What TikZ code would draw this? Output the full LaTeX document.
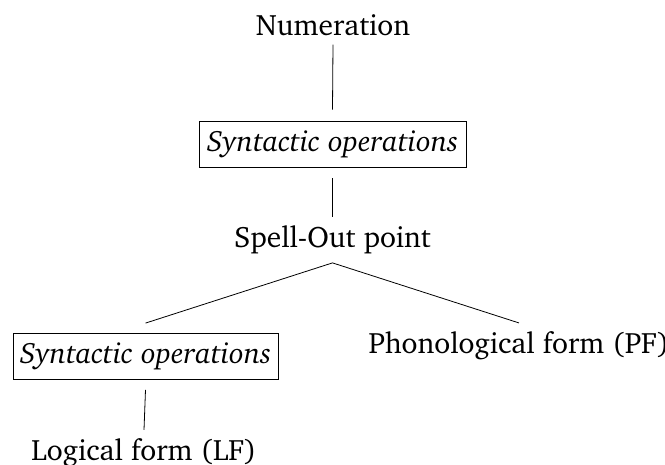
\documentclass[tikz,border=0pt]{standalone}
\usepackage[T1]{fontenc}
\usepackage{charter}
\begin{document}
\begin{tikzpicture}[x=1pt,y=-1pt,
  lbl/.style={inner sep=0pt, font=\fontsize{29.5}{35}\selectfont},
  opbox/.style={draw, line width=0.8pt, inner sep=0pt, minimum width=267pt, minimum height=46pt, font=\fontsize{29.5}{35}\selectfont\itshape},
  edge/.style={line width=0.8pt}]
\useasboundingbox (0,0) rectangle (665,464);
\node[lbl, anchor=base] (num) at (333,35) {Numeration};
\node[opbox] (ops1) at (332.5,144) {Syntactic operations};
\node[lbl, anchor=base] (spell) at (332.5,247) {Spell-Out point};
\node[opbox, minimum width=265pt] (ops2) at (145.5,356.5) {Syntactic operations};
\node[lbl, anchor=base] (pf) at (519,353) {Phonological form (PF)};
\node[lbl, anchor=base] (lf) at (144,460) {Logical form (LF)};
\draw[edge] ([yshift=-9pt]num.south) -- ([yshift=11pt]ops1.north);
\draw[edge] ([yshift=-11pt]ops1.south) -- ([yshift=8pt]spell.north);
\coordinate (apex) at ([yshift=-9.5pt]spell.south);
\draw[edge] ([yshift=10pt]ops2.north) -- (apex) -- ([yshift=8pt]pf.north);
\draw[edge] ([yshift=-10pt]ops2.south) -- ([yshift=8pt]lf.north);
\end{tikzpicture}
\end{document}
